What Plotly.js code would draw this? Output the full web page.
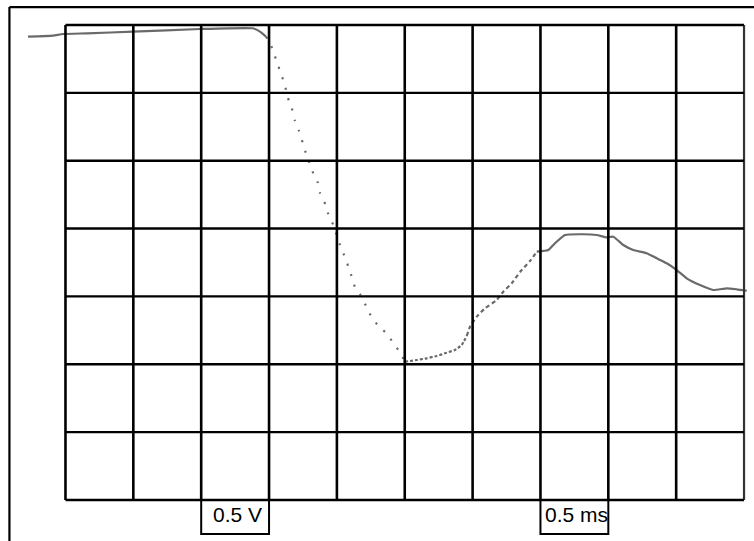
<!DOCTYPE html>
<html><head><meta charset="utf-8">
<script src="https://cdn.plot.ly/plotly-3.0.1.min.js"></script>
<style>html,body{margin:0;padding:0;background:#fff;}#chart{width:754px;height:541px;}</style>
</head><body><div id="chart"></div>
<script>
// Oscilloscope trace, in screen divisions (x: time divisions, y: voltage divisions from bottom)
const timeDiv = [-0.553,-0.184,-0.037,0.317,0.995,1.982,2.763,2.867,2.955,3.024,3.058,3.127,3.166,3.225,3.275,3.334,3.382,3.441,3.496,3.555,3.608,3.652,3.721,3.751,3.839,3.884,3.947,4.071,4.119,4.168,4.227,4.267,4.340,4.439,4.513,4.635,4.734,4.808,4.905,5.004,5.176,5.323,5.471,5.618,5.741,5.839,5.913,5.962,6.060,6.183,6.355,6.452,6.576,6.699,6.846,6.945,7.116,7.214,7.362,7.631,7.829,7.976,8.074,8.221,8.368,8.566,8.713,8.861,9.008,9.155,9.351,9.548,9.745,9.892,10.040];
const voltDiv = [6.828,6.842,6.867,6.877,6.901,6.941,6.951,6.901,6.828,6.720,6.607,6.436,6.297,6.150,5.934,5.781,5.585,5.438,5.265,5.074,4.937,4.815,4.672,4.524,4.337,4.175,4.053,3.684,3.585,3.438,3.267,3.134,3.036,2.840,2.692,2.539,2.457,2.348,2.211,2.038,2.063,2.088,2.122,2.171,2.211,2.284,2.417,2.554,2.701,2.825,2.947,3.070,3.193,3.360,3.522,3.659,3.684,3.783,3.905,3.916,3.905,3.871,3.880,3.758,3.684,3.636,3.562,3.488,3.389,3.267,3.168,3.095,3.120,3.105,3.084];
// index where trace rendering style changes (solid, sparse dots, dense dots, dashes, solid)
const segmentBreaks = [0, 8, 39, 46, 55, 74];
const segmentDash = ["solid", "2px,9px", "3px,2px", "4px,3px", "solid"];
const gridX = [0,1,2,3,4,5,6,7,8,9,10];
const gridY = [0,1,2,3,4,5,6,7];
const scaleLabels = ["0.5 V", "0.5 ms"];
const scaleLabelCol = [2, 7];

const traceColor = "#6a6a6a";
const traces = [];
for (let s = 0; s < segmentDash.length; s++) {
  const a = segmentBreaks[s], b = segmentBreaks[s+1];
  traces.push({
    type: "scatter", mode: "lines",
    x: timeDiv.slice(a, b+1), y: voltDiv.slice(a, b+1),
    line: {color: traceColor, width: 2.2, dash: segmentDash[s], shape: "spline", smoothing: 0.4},
    hoverinfo: "skip", showlegend: false
  });
}

const shapes = [];
const gx0 = gridX[0], gx1 = gridX[gridX.length-1], gy0 = gridY[0], gy1 = gridY[gridY.length-1];
gridX.forEach(v => shapes.push({type:"line", xref:"x", yref:"y", x0:v, x1:v, y0:gy0, y1:gy1, line:{color: v === gx1 ? "#333" : "#000", width: v === gx1 ? 2.2 : 2.6}}));
gridY.forEach(v => shapes.push({type:"line", xref:"x", yref:"y", x0:gx0, x1:gx1, y0:v, y1:v, line:{color:"#000", width:2.4}}));
// scale label boxes below the grid
scaleLabelCol.forEach(c => shapes.push({type:"rect", xref:"x", yref:"y", x0:c, x1:c+1, y0:gy0, y1:-0.5, line:{color:"#000", width:2}, fillcolor:"rgba(0,0,0,0)"}));
// outer frame (left and top edges visible)
shapes.push({type:"line", xref:"paper", yref:"paper", x0:0.0125, x1:0.0125, y0:-0.1, y1:0.987, line:{color:"#000", width:2.2}});
shapes.push({type:"line", xref:"paper", yref:"paper", x0:0.0125, x1:1.1, y0:0.987, y1:0.987, line:{color:"#000", width:2.2}});

const annotations = scaleLabels.map((t, i) => ({
  text: t, xref:"x", yref:"y", x: scaleLabelCol[i] + (i === 0 ? 0.14 : 0.04), y: -0.22,
  xanchor:"left", yanchor:"middle", showarrow:false,
  font:{family:"Liberation Sans, Arial, sans-serif", size:21, color:"#000"}
}));

const layout = {
  width: 754, height: 541,
  margin: {l:0, r:0, t:0, b:0},
  paper_bgcolor: "#fff", plot_bgcolor: "#fff",
  xaxis: {range: [-0.965, 10.147], visible: false, fixedrange: true},
  yaxis: {range: [-0.604, 7.368], visible: false, fixedrange: true},
  shapes: shapes, annotations: annotations, showlegend: false
};
Plotly.newPlot("chart", traces, layout, {staticPlot: true, displayModeBar: false});
</script>
</body></html>
